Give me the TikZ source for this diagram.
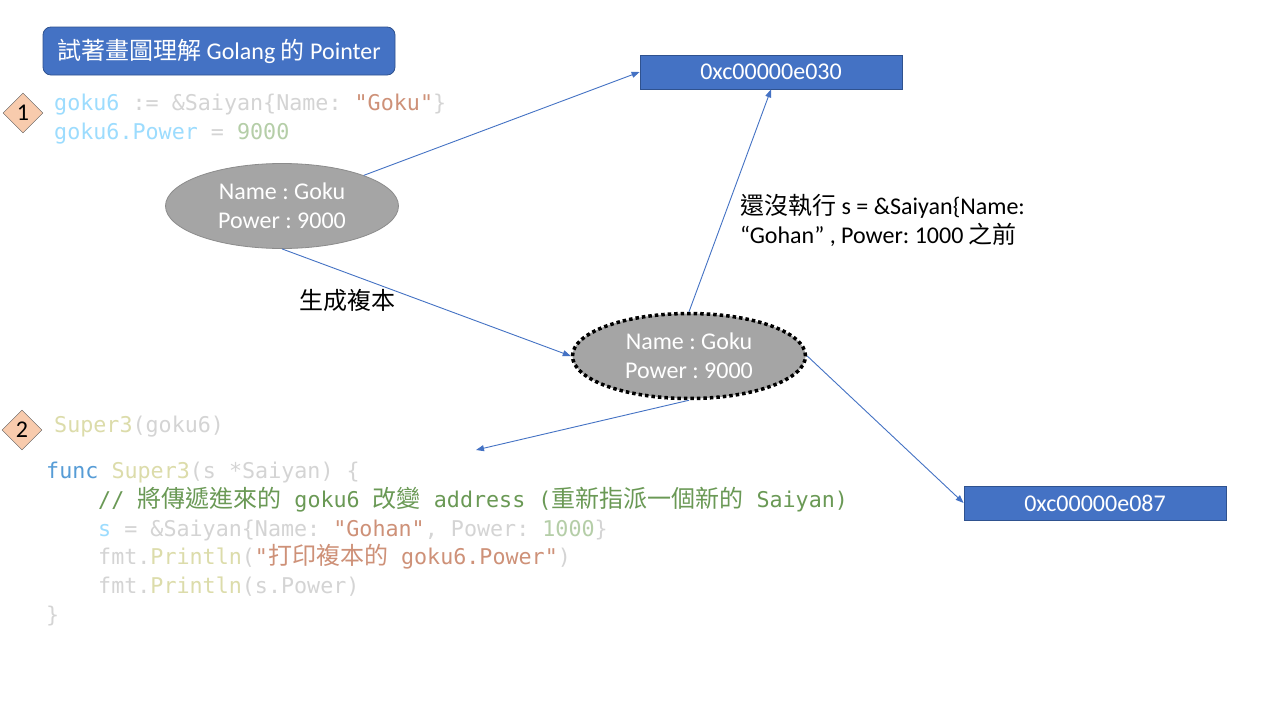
\documentclass[tikz,border=0pt]{standalone}
\usepackage{fontspec}
\setmainfont{Carlito}
\setmonofont{DejaVu Sans Mono}
\newfontfamily\cjk{Noto Sans CJK TC}
\usetikzlibrary{shapes.geometric,arrows.meta}
\definecolor{accblue}{HTML}{4472C4}
\definecolor{accborder}{HTML}{2F528F}
\definecolor{peach}{HTML}{F8CBAD}
\definecolor{ellgray}{HTML}{A5A5A5}
\definecolor{ellborder}{HTML}{8C8C8C}
\definecolor{cgray}{HTML}{D4D4D4}
\definecolor{cvar}{HTML}{9CDCFE}
\definecolor{cstr}{HTML}{CE9178}
\definecolor{cnum}{HTML}{B5CEA8}
\definecolor{cfun}{HTML}{DCDCAA}
\definecolor{ckw}{HTML}{569CD6}
\definecolor{ccom}{HTML}{6A9955}
\newcommand\ck[1]{{\cjk\fontsize{24}{29}\selectfont #1}}
\newcommand\cGr[1]{\textcolor{cgray}{#1}}
\newcommand\cVb[1]{\textcolor{cvar}{#1}}
\newcommand\cSt[1]{\textcolor{cstr}{#1}}
\newcommand\cNu[1]{\textcolor{cnum}{#1}}
\newcommand\cFn[1]{\textcolor{cfun}{#1}}
\newcommand\cKw[1]{\textcolor{ckw}{#1}}
\newcommand\cCm[1]{\textcolor{ccom}{#1}}
\frenchspacing
\tikzset{
  codeline/.style={anchor=base west, inner sep=0pt, font=\fontsize{21.7}{29}\selectfont\ttfamily},
  txt/.style={font=\fontsize{24}{29}\selectfont},
  addrbox/.style={draw=accborder, fill=accblue, text=white, minimum width=262pt, minimum height=34pt, inner sep=0pt, line width=0.8pt, txt},
  obj/.style={ellipse, fill=ellgray, text=white, minimum width=233pt, minimum height=85pt, inner sep=0pt, align=center, txt},
  diam/.style={diamond, aspect=1, fill=peach, draw=black!65, minimum width=40pt, minimum height=40pt, inner sep=0pt, txt},
  conn/.style={draw=accblue, line width=0.9pt, -{Triangle[length=8pt,width=6pt]}}
}
\begin{document}
\begin{tikzpicture}[x=1pt,y=-1pt]
\useasboundingbox (0,0) rectangle (1280,720);
\fill[white] (0,0) rectangle (1280,720);

% title
\node[draw=accborder, fill=accblue, rounded corners=8pt, text=white, minimum width=352pt, minimum height=48pt, inner sep=0pt, line width=0.8pt, txt] (title) at (219,51) {\ck{試著畫圖理解} Golang \ck{的} Pointer};

% step markers
\node[diam] (d1) at (23,113) {1};
\node[diam] (d2) at (22,430) {2};

% code block 1
\node[codeline] (c1) at (54,110) {\cVb{goku6}\cGr{\ := \&Saiyan\{Name:\ }\cSt{"Goku"}\cGr{\}}};
\node[codeline] (c2) at (54,139) {\cVb{goku6.Power}\cGr{\ =\ }\cNu{9000}};

% code block 2
\node[codeline] (c3) at (54,432) {\cFn{Super3}\cGr{(goku6)}};
\node[codeline] (c4) at (46,478) {\cKw{func}\cFn{\ Super3}\cGr{(s *Saiyan) \{}};
\node[codeline] (c5) at (98,507) {\cCm{//\ \ck{將傳遞進來的}\ goku6\ \ck{改變}\ address (\ck{重新指派一個新的}\ Saiyan)}};
\node[codeline] (c6) at (98,536) {\cVb{s}\cGr{\ = \&Saiyan\{Name:\ }\cSt{"Gohan"}\cGr{,\ Power:\ }\cNu{1000}\cGr{\}}};
\node[codeline] (c7) at (98,564) {\cGr{fmt.}\cFn{Println}\cGr{(}\cSt{"\ck{打印複本的}\ goku6.Power"}\cGr{)}};
\node[codeline] (c8) at (98,593) {\cGr{fmt.}\cFn{Println}\cGr{(s.Power)}};
\node[codeline] (c9) at (46,622) {\cGr{\}}};

% objects
\node[obj, draw=ellborder, line width=0.8pt] (e1) at (282,206) {Name : Goku\\Power : 9000};
\node[obj, draw=black, line width=3.5pt, dash pattern=on 3.5pt off 3pt] (e2) at (689,356) {Name : Goku\\Power : 9000};

% addresses
\node[addrbox] (b1) at (771,72) {0xc00000e030};
\node[addrbox] (b2) at (1095,503) {0xc00000e087};

% labels
\node[txt, inner sep=0pt] (lcopy) at (347,300) {\ck{生成複本}};
\node[txt, inner sep=0pt, anchor=west, align=left] (lbefore) at (740,220) {\ck{還沒執行} s = \&Saiyan\{Name:\\“Gohan” , Power: 1000 \ck{之前}};

% connectors
\coordinate (arg) at (476,450);
\draw[conn] (e1) -- (b1.west);
\draw[conn] (e1.south) -- (e2.west);
\draw[conn] (e2.north) -- (b1.south);
\draw[conn] (e2.south) -- (arg);
\draw[conn] (e2.east) -- (b2.west);
\end{tikzpicture}
\end{document}
